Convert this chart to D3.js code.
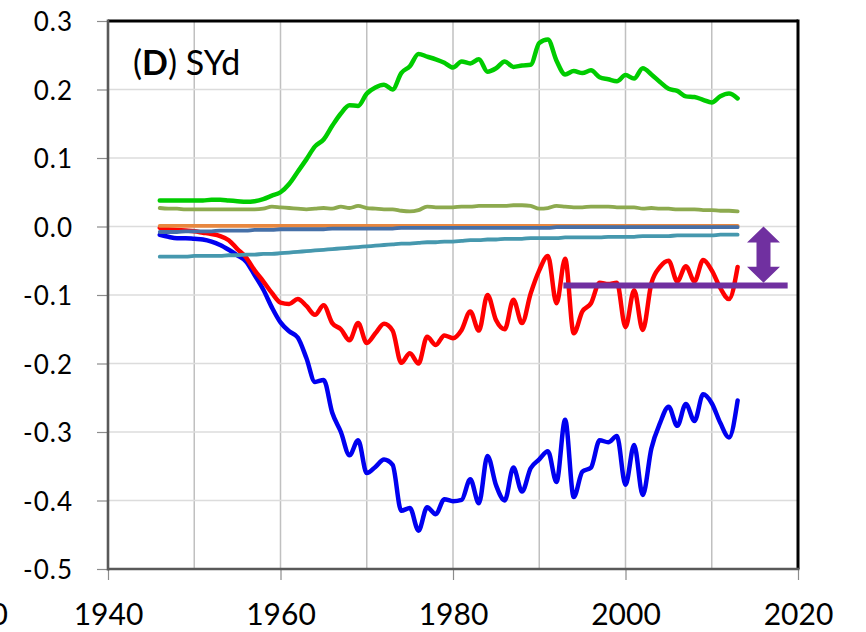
<!DOCTYPE html>
<html>
<head>
<meta charset="utf-8">
<script src="https://cdn.jsdelivr.net/npm/d3@7"></script>
<style>
  body { margin: 0; background: #fff; }
  svg { display: block; font-family: Lato, 'Open Sans', sans-serif; }
</style>
</head>
<body>
<svg></svg>
<script>
let years = [1946,1947,1948,1949,1950,1951,1952,1953,1954,1955,1956,1957,1958,1959,
  1960,1961,1962,1963,1964,1965,1966,1967,1968,1969,1970,1971,1972,1973,1974,1975,
  1976,1977,1978,1979,1980,1981,1982,1983,1984,1985,1986,1987,1988,1989,1990,1991,
  1992,1993,1994,1995,1996,1997,1998,1999,2000,2001,2002,2003,2004,2005,2006,2007,
  2008,2009,2010,2011,2012,2013]

let greenVals = [.038,.038,.038,.038,.038,.038,.039,.039,.038,.037,.036,.037,.040,.045,
  .050,.062,.080,.098,.117,.127,.147,.165,.177,.176,.194,.203,.207,.200,.224,.234,
  .252,.248,.244,.239,.232,.241,.238,.244,.226,.231,.241,.233,.235,.236,.268,.273,
  .242,.222,.227,.224,.228,.218,.215,.212,.221,.216,.231,.222,.211,.201,.198,.190,
  .189,.185,.181,.190,.194,.187]

let oliveVals = [.027,.026,.026,.025,.025,.025,.025,.025,.025,.025,.025,.025,.026,.029,
  .028,.027,.026,.025,.026,.027,.026,.029,.027,.030,.027,.026,.025,.025,.023,.022,
  .024,.029,.028,.028,.028,.029,.029,.030,.030,.030,.030,.031,.031,.030,.026,.027,
  .030,.029,.028,.028,.029,.029,.029,.028,.028,.028,.026,.027,.026,.026,.025,.025,
  .025,.024,.024,.023,.023,.022]

let orangeVals = [.001,.001,.001,.001,.001,.001,.001,.001,.001,.001,.001,.001,.001,.001,
  .001,.001,.001,.001,.001,.001,.001,.001,.001,.001,.001,.001,.001,.001,.001,.001,
  .001,.001,.001,.001,.001,.001,.001,.001,.001,.001,.001,.001,.001,.001,.001,.001,
  .001,.001,.001,.001,.001,.001,.001,.001,.001,.001,.001,.001,.001,.001,.001,.001,
  .001,.001,.001,.001,.001,.001]

let steelVals = [-.008,-.008,-.008,-.007,-.007,-.007,-.007,-.006,-.006,-.006,-.006,-.005,-.005,-.005,
  -.004,-.004,-.004,-.004,-.004,-.004,-.003,-.003,-.003,-.003,-.003,-.003,-.003,-.003,-.002,-.002,
  -.002,-.002,-.002,-.002,-.002,-.002,-.002,-.002,-.002,-.002,-.002,-.002,-.002,-.002,-.002,-.002,
  -.001,-.001,-.001,-.001,-.001,-.001,-.001,-.001,-.001,-.001,-.001,-.001,-.001,-.001,-.001,-.001,
  -.001,-.001,-.001,-.001,-.001,-.001]

let tealVals = [-.044,-.044,-.044,-.044,-.043,-.043,-.043,-.043,-.042,-.042,-.041,-.041,-.040,-.040,
  -.039,-.038,-.037,-.036,-.035,-.034,-.033,-.032,-.031,-.030,-.029,-.028,-.027,-.026,-.025,-.025,
  -.024,-.023,-.023,-.022,-.022,-.021,-.020,-.020,-.019,-.019,-.018,-.018,-.018,-.017,-.017,-.017,
  -.017,-.016,-.016,-.016,-.016,-.016,-.015,-.015,-.015,-.015,-.014,-.014,-.014,-.014,-.013,-.013,
  -.013,-.013,-.013,-.012,-.012,-.012]

let redVals = [-.002,-.004,-.005,-.006,-.007,-.009,-.011,-.014,-.020,-.033,-.045,-.064,-.080,-.097,
  -.111,-.113,-.106,-.116,-.129,-.115,-.141,-.150,-.166,-.141,-.170,-.156,-.142,-.152,-.199,-.185,
  -.200,-.161,-.173,-.159,-.163,-.151,-.124,-.152,-.100,-.137,-.150,-.107,-.141,-.098,-.064,-.043,
  -.112,-.047,-.156,-.124,-.112,-.082,-.084,-.082,-.147,-.093,-.151,-.083,-.059,-.050,-.080,-.058,
  -.080,-.049,-.064,-.090,-.106,-.059]

let blueVals = [-.012,-.015,-.017,-.017,-.018,-.019,-.022,-.027,-.034,-.042,-.051,-.071,-.092,-.118,
  -.140,-.153,-.162,-.192,-.227,-.224,-.272,-.300,-.334,-.312,-.360,-.351,-.340,-.348,-.415,-.411,
  -.444,-.410,-.420,-.398,-.401,-.399,-.369,-.404,-.335,-.378,-.400,-.352,-.387,-.353,-.340,-.328,
  -.373,-.282,-.395,-.358,-.352,-.312,-.315,-.306,-.377,-.319,-.392,-.324,-.287,-.263,-.291,-.259,
  -.284,-.245,-.258,-.287,-.308,-.254]

// purple reference level and the double arrow
let refLevel = { from: 1992.8, to: 2018.8, value: -0.086 }
let arrowSpan = { year: 2016, top: 0.0, bottom: -0.082 }

let xTicks = [1940, 1960, 1980, 2000, 2020]
let xGrid = [1950, 1960, 1970, 1980, 1990, 2000, 2010]
let yTicks = [-0.5, -0.4, -0.3, -0.2, -0.1, 0.0, 0.1, 0.2, 0.3]
let yGrid = [-0.4, -0.3, -0.2, -0.1, 0.0, 0.1, 0.2]

let width = 866
let height = 632

let svg = d3.select('svg').attr('width', width).attr('height', height)

let xScale = d3.scaleLinear().domain([1940, 2020]).range([108, 798])
let yScale = d3.scaleLinear().domain([-0.5, 0.3]).range([569, 21])

// grid
svg.append('g').selectAll('line')
  .data(xGrid).enter().append('line')
  .attr('x1', d => xScale(d)).attr('x2', d => xScale(d))
  .attr('y1', yScale(0.3)).attr('y2', yScale(-0.5))
  .attr('stroke', '#c0c0c0').attr('stroke-width', 1.5)

svg.append('g').selectAll('line')
  .data(yGrid).enter().append('line')
  .attr('x1', xScale(1940)).attr('x2', xScale(2020))
  .attr('y1', d => yScale(d)).attr('y2', d => yScale(d))
  .attr('stroke', '#dcdcdc').attr('stroke-width', 1.5)

// axes
let yAxis = d3.axisLeft(yScale).tickValues(yTicks).tickSize(11).tickPadding(24)
  .tickFormat(d => d.toFixed(1))
let gy = svg.append('g').attr('transform', 'translate(' + xScale(1940) + ',0)').call(yAxis)
gy.select('.domain').remove()
gy.selectAll('line').attr('stroke', '#8c8c8c').attr('stroke-width', 1.2)
gy.selectAll('text').attr('font-size', 26).attr('fill', '#000').attr('font-family', 'Lato')
  .attr('dy', '0.38em').style('letter-spacing', '1px')

let xAxis = d3.axisBottom(xScale).tickValues(xTicks).tickSize(11).tickPadding(24)
  .tickFormat(d3.format('d'))
let gx = svg.append('g').attr('transform', 'translate(0,' + yScale(-0.5) + ')').call(xAxis)
gx.select('.domain').remove()
gx.selectAll('line').attr('stroke', '#8c8c8c').attr('stroke-width', 1.2)
gx.selectAll('text').attr('font-size', 30).attr('fill', '#000').attr('font-family', 'Lato')

// stray label from neighbouring panel (cut at the edge, as in the source)
svg.append('text').attr('x', 8).attr('y', 625).attr('text-anchor', 'end')
  .attr('font-size', 30).text('0')

// series
let series = [
  { vals: greenVals, color: '#00cc00', w: 4.5 },
  { vals: oliveVals, color: '#8daa4f', w: 3.8 },
  { vals: blueVals, color: '#0000f0', w: 4.5 },
  { vals: redVals, color: '#ff0000', w: 4.5 },
  { vals: tealVals, color: '#4698ae', w: 3.8 },
  { vals: orangeVals, color: '#e8873f', w: 3.8 },
  { vals: steelVals, color: '#4670a8', w: 3.8 }
]

let line = d3.line()
  .x((d, i) => xScale(years[i]))
  .y(d => yScale(d))
  .curve(d3.curveMonotoneX)

svg.append('g').selectAll('path')
  .data(series).enter().append('path')
  .attr('d', s => line(s.vals))
  .attr('fill', 'none')
  .attr('stroke', s => s.color)
  .attr('stroke-width', s => s.w)
  .attr('stroke-linejoin', 'round')
  .attr('stroke-linecap', 'round')

// purple level line
svg.append('line')
  .attr('x1', xScale(refLevel.from)).attr('x2', xScale(refLevel.to))
  .attr('y1', yScale(refLevel.value)).attr('y2', yScale(refLevel.value))
  .attr('stroke', '#7030a0').attr('stroke-width', 6)

// double arrow
let ax = xScale(arrowSpan.year)
let at = yScale(arrowSpan.top)
let ab = yScale(arrowSpan.bottom)
let hw = 16.5, sw = 7, hh = 16
let pts = [
  [ax, at], [ax + hw, at + hh], [ax + sw, at + hh], [ax + sw, ab - hh], [ax + hw, ab - hh],
  [ax, ab], [ax - hw, ab - hh], [ax - sw, ab - hh], [ax - sw, at + hh], [ax - hw, at + hh]
]
svg.append('polygon').attr('points', pts.map(p => p.join(',')).join(' '))
  .attr('fill', '#7030a0')

// frame
svg.append('line').attr('x1', xScale(1940)).attr('x2', xScale(2020))
  .attr('y1', yScale(0.3)).attr('y2', yScale(0.3))
  .attr('stroke', '#000').attr('stroke-width', 3)
svg.append('line').attr('x1', xScale(2020)).attr('x2', xScale(2020))
  .attr('y1', yScale(0.3) - 1.5).attr('y2', yScale(-0.5))
  .attr('stroke', '#000').attr('stroke-width', 3)
svg.append('line').attr('x1', xScale(1940)).attr('x2', xScale(1940))
  .attr('y1', yScale(0.3) - 1.5).attr('y2', yScale(-0.5) + 1.5)
  .attr('stroke', '#595959').attr('stroke-width', 2.6)
svg.append('line').attr('x1', xScale(1940)).attr('x2', xScale(2020) + 1.5)
  .attr('y1', yScale(-0.5)).attr('y2', yScale(-0.5))
  .attr('stroke', '#595959').attr('stroke-width', 2.6)

// panel title
let title = svg.append('text').attr('x', 133).attr('y', 75).attr('font-size', 34)
title.append('tspan').text('(')
title.append('tspan').attr('font-weight', 'bold').text('D')
title.append('tspan').text(') SYd')
</script>
</body>
</html>
